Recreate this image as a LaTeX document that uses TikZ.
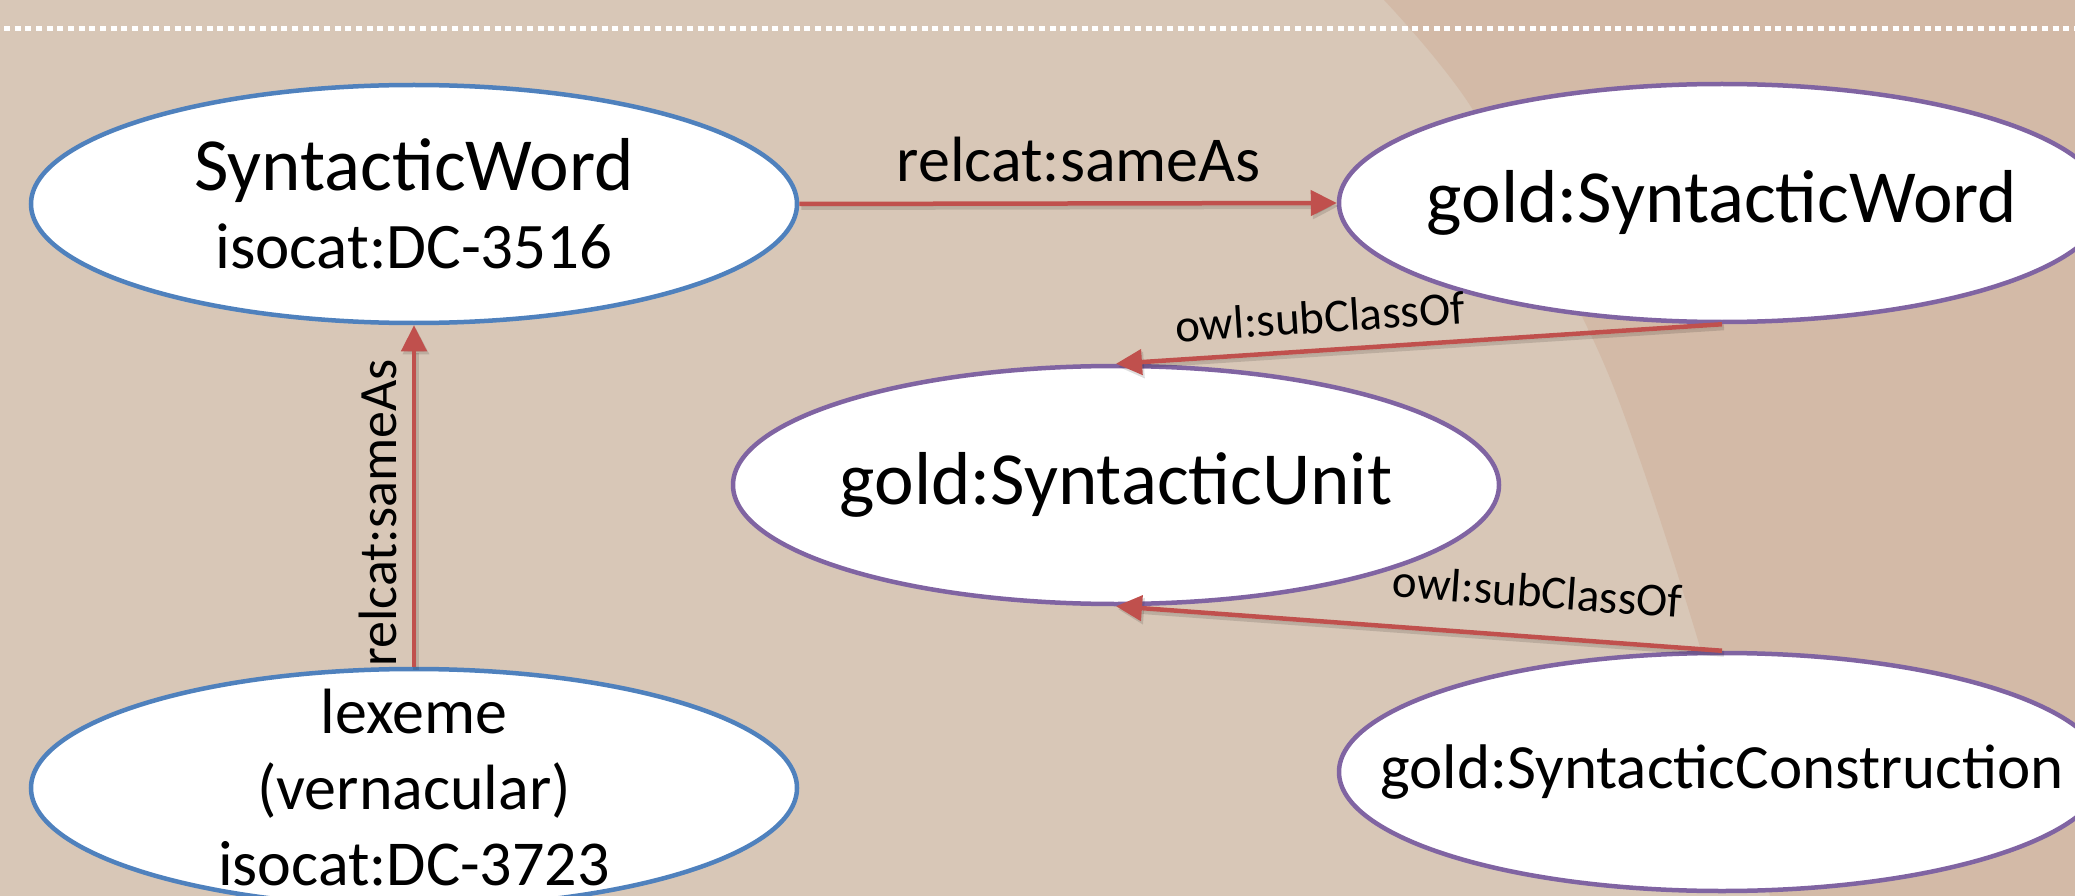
\documentclass[tikz,border=0pt]{standalone}
\usepackage{fontspec}
\setmainfont{Carlito}
\usetikzlibrary{arrows.meta,shapes.geometric}
\definecolor{bglight}{RGB}{216,199,183}
\definecolor{bgdark}{RGB}{211,186,167}
\definecolor{blueline}{RGB}{79,129,189}
\definecolor{purpleline}{RGB}{128,100,162}
\definecolor{redline}{RGB}{192,80,77}
\tikzset{
  ell/.style={ellipse, fill=white, line width=4.5pt, minimum width=766pt, minimum height=238pt, inner sep=0pt},
  blueell/.style={ell, draw=blueline},
  purpell/.style={ell, draw=purpleline},
  txt/.style={inner sep=0pt, align=center},
  rel/.style={draw=redline, line width=4.5pt, -{Triangle[length=26pt,width=25pt]}},
  relshadow/.style={draw=black, fill=black, opacity=0.13, line width=6pt, -{Triangle[length=26pt,width=25pt]}},
  lbl/.style={inner sep=0pt, font=\fontsize{64}{64}\selectfont},
  vlbl/.style={inner sep=0pt, font=\fontsize{54}{54}\selectfont},
  small/.style={inner sep=0pt, font=\fontsize{47}{47}\selectfont},
}
\begin{document}
\begin{tikzpicture}[x=1pt,y=1pt]
\useasboundingbox (0,0) rectangle (2075,-896);
\clip (0,0) rectangle (2075,-896);
\fill[bglight] (0,0) rectangle (2075,-896);
\fill[bgdark] plot[smooth] coordinates {(1384,0) (1473,-110) (1590,-333) (1640,-460) (1700,-647) (1770,-896)} -- (2075,-896) -- (2075,0) -- cycle;
\draw[white, line width=5pt, dash pattern=on 6pt off 4.67pt] (4,-29) -- (2075,-29);

\node[blueell] (sw) at (414,-204) {};
\node[txt, font=\fontsize{65}{78}\selectfont] (swt) at (sw.center) {{\fontsize{75}{78}\selectfont SyntacticWord}\\isocat:DC-3516};
\node[blueell] (lex) at (414,-788) {};
\node[txt, font=\fontsize{64}{76}\selectfont] (lext) at (lex.center) {lexeme\\(vernacular)\\isocat:DC-3723};
\node[purpell] (gsw) at (1722,-203) {};
\node[txt, font=\fontsize{75}{78}\selectfont] (gswt) at (gsw.center) {gold:SyntacticWord};
\node[purpell] (unit) at (1116,-485) {};
\node[txt, font=\fontsize{75}{78}\selectfont] (unitt) at (unit.center) {gold:SyntacticUnit};
\node[purpell] (con) at (1722,-772) {};
\node[txt, font=\fontsize{63}{78}\selectfont] (cont) at (con.center) {gold:SyntacticConstruction};

\begin{scope}[transform canvas={xshift=2pt,yshift=-3pt}]
\draw[relshadow] (sw.east) -- (gsw.west);
\draw[relshadow] (lex.north) -- (sw.south);
\draw[relshadow] (gsw.south) -- (unit.north);
\draw[relshadow] (con.north) -- (unit.south);
\end{scope}

\draw[rel] (sw.east) -- (gsw.west) node[lbl, pos=0.52, above=19pt] (l1) {relcat:sameAs};
\draw[rel] (lex.north) -- (sw.south) node[vlbl, pos=0.45, sloped, above=15pt] (l2) {relcat:sameAs};
\draw[rel] (gsw.south) -- (unit.north) node[small, pos=0.66, sloped, above=15pt] (l3) {owl:subClassOf};
\draw[rel] (con.north) -- (unit.south) node[small, pos=0.31, sloped, above=27pt] (l4) {owl:subClassOf};
\end{tikzpicture}
\end{document}
